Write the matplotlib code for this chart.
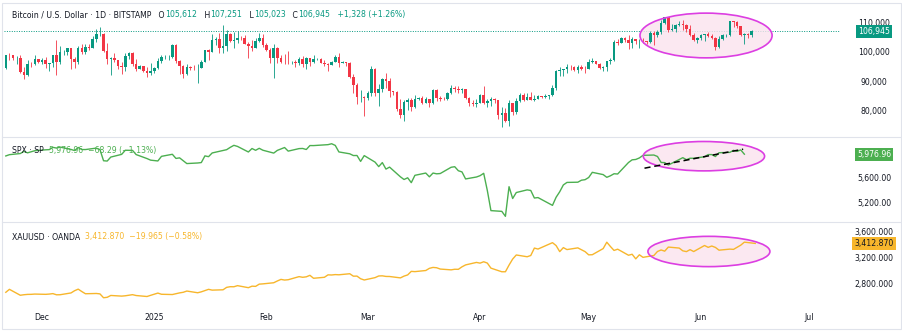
import numpy as np
import pandas as pd
import matplotlib
matplotlib.use("Agg")
import matplotlib.pyplot as plt
import matplotlib.dates as mdates
from matplotlib.patches import Ellipse
from matplotlib.lines import Line2D

# ---------------- data ----------------
btc_start, btc_end = "2024-11-21", "2025-06-15"
btc_first_open = 94300
btc_close = [
    98950, 98900, 97700, 98000, 93100, 91950, 95900, 95650, 97450, 96450,
    97280, 95860, 96000, 98750, 96600, 99900, 99900, 101150, 97350, 96600,
    101100, 100000, 101450, 101400, 104450, 106050, 106140, 100200, 97450, 97750,
    97200, 95150, 94850, 98650, 99400, 95800, 94200, 95150, 93550, 92650, 93400,
    94400, 96900, 98100, 98250, 98300, 102100, 96950, 95050, 92500, 94700,
    94550, 94500, 94500, 96550, 100500, 99990, 104100, 104400, 101100, 102000,
    106150, 103650, 103950, 104800, 104700, 102600, 102050, 101300, 103700, 104700, 102400,
    100650, 97700, 101400, 97900, 96600, 96550, 96500, 96500, 96150, 97400,
    95750, 97850, 96600, 97500, 97550, 96150, 95800, 95550, 96600, 98300,
    96150, 96550, 96250, 91500, 88700, 84700, 84700, 84350,
    86050, 94250, 86100, 87200, 90600, 89950, 86750, 86150, 80600, 78550,
    82850, 83700, 81050, 83950, 84350, 82600, 84050, 82700, 86850, 84150,
    84050, 83850, 86050, 87500, 87450, 86900, 87200, 84350, 82600, 82350, 82550,
    85150, 82500, 83100, 83850, 83500, 78350, 79150, 76300, 82550, 79600,
    83400, 85250, 83700, 84550, 83650, 84050, 84900, 84450, 85050, 85150,
    87500, 93450, 93700, 93950, 94700, 94650, 93750, 94950, 94250, 94200,
    96500, 96900, 95900, 94300, 94750, 96800, 97000, 103250, 102950, 104650,
    104100, 102800, 104150, 103500, 103750, 103500, 103200, 106450, 105600, 106800,
    109650, 111700, 107300, 107800, 109000, 109450, 108950, 107800, 105650, 103950, 104600,
    105700, 105850, 105400, 104700, 101500, 104300, 105600, 105750, 110300, 110250,
    108650, 105650, 106050, 105612, 106945,
]
btc_high = [
    99000, 99650, 98800, 98600, 98900, 94700, 97300, 96600, 98700, 97500,
    97900, 98200, 96300, 99000, 103900, 101900, 100500, 101400, 101200, 98200,
    101900, 102500, 102600, 102700, 105200, 107800, 108300, 106500, 102800, 98200,
    99500, 97300, 96400, 99500, 99950, 99900, 97400, 95500, 95200, 94900, 96100,
    94900, 97800, 98900, 98700, 98800, 102500, 102700, 97200, 95300, 95800,
    95000, 95300, 95900, 97300, 100700, 100800, 105900, 104900, 106300, 109100,
    107200, 106300, 106800, 107100, 105400, 105500, 103200, 103800, 104800, 106400, 106000,
    102800, 101400, 102500, 101700, 99000, 99200, 100100, 96900, 97300, 98300,
    98500, 98100, 98000, 98800, 97900, 97700, 97000, 96000, 96900, 98700,
    99500, 96900, 96500, 96500, 92500, 89300, 87000, 85100,
    86500, 95000, 94400, 88900, 91000, 92800, 91200, 86800, 86500, 84000,
    83600, 84400, 84300, 85300, 84700, 85000, 84700, 84000, 87400, 87400,
    84800, 84500, 86200, 88700, 88400, 88200, 87700, 87400, 84500, 83500, 83900,
    85500, 88500, 83900, 84700, 84200, 83700, 81200, 80800, 83500, 82700,
    84200, 85900, 86000, 85800, 86400, 85400, 85400, 85100, 85600, 85300,
    88800, 93800, 94700, 94000, 95700, 95300, 95200, 95600, 95400, 95200,
    97400, 97900, 96900, 96300, 95200, 96900, 97700, 103900, 104300, 104900,
    104900, 105800, 104900, 104300, 104200, 104500, 103700, 107100, 107100, 107300,
    110800, 111900, 111800, 109500, 109300, 110400, 110700, 109300, 108900, 106300, 104900,
    105900, 105900, 106800, 105900, 105000, 105300, 105900, 106000, 110500, 110400,
    110400, 108800, 106200, 106200, 107251,
]
btc_low = [
    94100, 97200, 97200, 95800, 92600, 90800, 91800, 94700, 95400, 96100,
    95700, 94400, 93600, 94700, 92100, 95900, 98900, 98700, 94200, 94300,
    95700, 99300, 99200, 100600, 101200, 103300, 105300, 100000, 95700, 92200,
    96400, 94200, 92400, 93400, 97600, 95200, 93300, 94100, 93100, 91300, 92000,
    92700, 94200, 96000, 97500, 97200, 97900, 96100, 92500, 91200, 92200,
    93800, 93700, 89200, 94300, 96500, 97300, 100000, 102300, 99500, 99600,
    100100, 103300, 101200, 102800, 104100, 102500, 97800, 100300, 101300, 103300, 101600,
    100300, 96200, 91200, 96200, 96200, 95700, 95700, 95700, 94700, 95300,
    94900, 94100, 95200, 96300, 97200, 96100, 95200, 93400, 95300, 96500,
    94900, 96100, 95200, 91200, 86100, 82300, 82800, 78200,
    83600, 85000, 85100, 81400, 86300, 87800, 84700, 85300, 80000, 77500,
    76600, 80200, 79900, 80800, 83700, 82100, 82500, 81200, 82300, 83200,
    83200, 83700, 83700, 85600, 86300, 85800, 85800, 83800, 81600, 81600, 81300,
    82400, 82300, 81200, 81700, 82400, 77200, 74500, 76200, 74600, 78500,
    78900, 82800, 83100, 83600, 83600, 83200, 83800, 84200, 84400, 83900,
    85100, 87000, 91700, 91700, 92900, 93900, 93600, 92800, 93700, 92900,
    94100, 96300, 95700, 94000, 93500, 93400, 95800, 96900, 102300, 102800,
    103400, 100800, 101400, 102600, 101400, 103100, 102600, 103100, 102100, 104900,
    106100, 109300, 106800, 107100, 106600, 108700, 107500, 106800, 105400, 103600, 103100,
    103900, 103700, 105000, 104200, 100400, 101100, 103900, 104900, 105300, 108300,
    108000, 105400, 102700, 104800, 105023,
]
btc_last = 106945

spx_holidays = ["2024-11-28", "2024-12-25", "2025-01-01", "2025-01-09",
                "2025-01-20", "2025-02-17", "2025-04-18", "2025-05-26"]
spx_close = [
    5948.7, 5969.3, 5987.4, 6021.6, 5998.7, 6032.4,
    6047.2, 6049.9, 6086.5, 6075.1, 6090.3, 6052.9, 6034.9, 6084.2, 6051.3, 6051.1,
    6074.1, 6050.6, 5872.2, 5867.1, 5930.9, 5974.1, 6040.0, 6037.6, 5970.8, 5906.9, 5881.6,
    5868.6, 5942.5, 5975.4, 5909.0, 5918.3, 5827.0, 5836.2, 5842.9, 5949.9, 5937.3,
    5996.7, 6049.2, 6086.4, 6118.7, 6101.2, 6012.3, 6067.7, 6039.3, 6071.2, 6040.5,
    5994.6, 6037.9, 6061.5, 6083.6, 6026.0, 6066.4, 6068.5, 6052.0, 6115.1, 6114.6,
    6129.6, 6144.2, 6117.5, 6013.1, 5983.3, 5955.3, 5956.1, 5861.6, 5954.5,
    5849.7, 5778.2, 5842.6, 5738.5, 5770.2, 5614.6, 5572.1, 5599.3, 5521.5, 5638.9,
    5675.1, 5614.7, 5675.3, 5662.9, 5667.6, 5767.6, 5776.7, 5712.2, 5693.3, 5580.9, 5611.9,
    5633.1, 5671.0, 5396.5, 5074.1, 5062.3, 4982.8, 5456.9, 5268.1, 5363.4, 5406.0,
    5396.6, 5275.7, 5282.7, 5158.2, 5287.8, 5375.9, 5484.8, 5525.2, 5528.8, 5560.8, 5569.1,
    5604.1, 5686.7, 5650.4, 5607.0, 5631.3, 5663.9, 5659.9, 5844.2, 5886.6, 5892.6,
    5916.9, 5958.4, 5963.6, 5940.5, 5844.6, 5842.0, 5802.8, 5921.5, 5888.6, 5912.2, 5911.7,
    5935.9, 5970.4, 5970.8, 5939.3, 6000.4, 6005.9, 6038.8, 6022.2, 6045.3, 5976.96,
]
spx_last = 5976.96

gold_holidays = ["2024-12-25", "2025-01-01", "2025-04-18"]
gold_close = [
    2670, 2715, 2625, 2633, 2638, 2639, 2643,
    2639, 2643, 2650, 2632, 2633, 2660, 2694, 2718, 2681, 2648,
    2652, 2646, 2587, 2594, 2622, 2612, 2617, 2634, 2621, 2606, 2624,
    2658, 2640, 2636, 2648, 2661, 2670, 2689, 2663, 2677, 2696, 2715,
    2703, 2708, 2745, 2755, 2754, 2771, 2740, 2763, 2760, 2794, 2798,
    2815, 2842, 2866, 2856, 2861, 2908, 2898, 2905, 2928, 2883,
    2898, 2935, 2933, 2939, 2936, 2952, 2915, 2916, 2876, 2857,
    2893, 2918, 2920, 2911, 2910, 2889, 2916, 2934, 2988, 2984,
    3001, 3034, 3048, 3043, 3023, 3011, 3020, 3019, 3057, 3086, 3124,
    3113, 3134, 3114, 3037, 2982, 2982, 3083, 3175, 3237, 3210,
    3229, 3342, 3327, 3424, 3380, 3288, 3349, 3319, 3345, 3317, 3288,
    3239, 3241, 3334, 3431, 3366, 3306, 3325, 3233, 3248, 3178, 3240,
    3201, 3229, 3290, 3313, 3295, 3357, 3342, 3300, 3288, 3318, 3289,
    3381, 3353, 3373, 3352, 3310, 3326, 3322, 3354, 3386, 3432, 3412.87,
]
gold_last = 3412.87

btc_ticks = [80000, 90000, 100000, 110000]
spx_ticks = [5200, 5600]
gold_ticks = [2800, 3200, 3600]
month_ticks = ["2024-12-01", "2025-01-01", "2025-02-01", "2025-03-01",
               "2025-04-01", "2025-05-01", "2025-06-01", "2025-07-01"]
month_labels = ["Dec", "2025", "Feb", "Mar", "Apr", "May", "Jun", "Jul"]

# ---------------- styles ----------------
UP, DOWN = "#089981", "#F23645"
SPX_C, GOLD_C = "#4CAF50", "#F7B62C"
DARK = "#131722"
SEP = "#E0E3EB"
MAG, PINK = "#DC3EE2", "#FBE3EE"
FS = 5.6

btc_dates = pd.date_range(btc_start, btc_end, freq="D")
spx_dates = pd.bdate_range("2024-11-21", "2025-06-13", freq="C", holidays=spx_holidays)
gold_dates = pd.bdate_range("2024-11-21", "2025-06-16", freq="C", holidays=gold_holidays)
n = min(len(spx_dates), len(spx_close)); spx_dates, spx_close = spx_dates[:n], spx_close[:n]
n = min(len(gold_dates), len(gold_close)); gold_dates, gold_close = gold_dates[:n], gold_close[:n]

o = np.array([btc_first_open] + btc_close[:-1], dtype=float)
o[-1] = 105612
c = np.array(btc_close, dtype=float)
h = np.array(btc_high, dtype=float)
l = np.array(btc_low, dtype=float)
cols = np.where(c >= o, UP, DOWN)

W, H = 903, 332
fig = plt.figure(figsize=(W / 100, H / 100), dpi=100)
fig.patch.set_facecolor("white")

def px_axes(top, bottom, left=4, right=840):
    return fig.add_axes([left / W, 1 - bottom / H, (right - left) / W, (bottom - top) / H])

ax1 = px_axes(4, 137)
ax2 = px_axes(137, 222)
ax3 = px_axes(222, 305)

xlim = (mdates.date2num(pd.Timestamp("2024-11-20 12:00")),
        mdates.date2num(pd.Timestamp("2025-07-09 10:00")))

for ax in (ax1, ax2, ax3):
    ax.set_xlim(*xlim)
    for s in ax.spines.values():
        s.set_visible(False)
    ax.yaxis.tick_right()
    ax.tick_params(axis="y", length=0, pad=24.5, labelsize=FS, labelcolor=DARK)
    ax.tick_params(axis="x", length=0)
    ax.set_facecolor("white")

# candles
ax1.vlines(btc_dates, l, h, colors=cols, linewidth=0.6, zorder=2)
ax1.bar(btc_dates, np.maximum(np.abs(c - o), 60), bottom=np.minimum(o, c),
        width=0.7, color=cols, linewidth=0, zorder=3)
ax1.axhline(btc_last, color=UP, linestyle=(0, (1, 1.5)), linewidth=0.7, zorder=1)
ax1.set_ylim(71000, 116200)
ax1.set_yticks(btc_ticks, [f"{v:,}" for v in btc_ticks])

ax2.plot(spx_dates, spx_close, color=SPX_C, linewidth=1.0, zorder=3)
ax2.set_ylim(4892, 6252)
ax2.set_yticks(spx_ticks, [f"{v:,.2f}" for v in spx_ticks])

ax3.plot(gold_dates, gold_close, color=GOLD_C, linewidth=1.0, zorder=3)
ax3.set_ylim(2477, 3738)
ax3.set_yticks(gold_ticks, [f"{v:,.3f}" for v in gold_ticks])

for ax in (ax1, ax2, ax3):
    plt.setp(ax.get_yticklabels(), ha="center")
    ax.set_xticks([])
ax3.set_xticks([mdates.date2num(pd.Timestamp(d)) for d in month_ticks], month_labels)
ax3.tick_params(axis="x", labelsize=FS, labelcolor=DARK, pad=5.5)

# ellipses + trend line
def dn(s):
    return mdates.date2num(pd.Timestamp(s))

for ax, cx, cy, w, hgt in [(ax1, "2025-06-02 10:00", 105500, 36.5, 15200),
                           (ax2, "2025-06-01 20:00", 5945, 33.5, 470),
                           (ax3, "2025-06-03 05:00", 3290, 33.7, 460)]:
    ax.add_patch(Ellipse((dn(cx), cy), w, hgt, facecolor=PINK, edgecolor="none",
                         alpha=0.8, zorder=1))
    ax.add_patch(Ellipse((dn(cx), cy), w, hgt, facecolor="none", edgecolor=MAG,
                         linewidth=1.2, zorder=4))
ax2.plot([dn("2025-05-16 10:00"), dn("2025-06-12 16:00")], [5753, 6057],
         color="black", linestyle=(0, (4, 2.5)), linewidth=1.1, zorder=5)

# price badges
def badge(ax, val, text, fc, tc):
    ax.annotate(text, xy=(1, val), xycoords=("axes fraction", "data"),
                xytext=(24.5, 0), textcoords="offset points", ha="center", va="center",
                fontsize=FS, color=tc, annotation_clip=False, zorder=6,
                bbox=dict(boxstyle="square,pad=0.25", fc=fc, ec="none"))

badge(ax1, btc_last, f"{btc_last:,}", UP, "white")
badge(ax2, spx_last, f"{spx_last:,.2f}", SPX_C, "white")
badge(ax3, gold_last, f"{gold_last:,.3f}", GOLD_C, DARK)

# legends / headers
def header(x, y, parts):
    prev = fig.text(x / W, 1 - y / H, parts[0][0], color=parts[0][1], fontsize=FS,
                    va="center", ha="left")
    for s, col in parts[1:]:
        prev = fig.add_artist(matplotlib.text.Annotation(
            s, xy=(1, 0), xycoords=prev, va="bottom", ha="left", fontsize=FS, color=col))

header(12, 15, [("Bitcoin / U.S. Dollar · 1D · BITSTAMP", DARK), ("   O", DARK), ("105,612", UP),
                ("   H", DARK), ("107,251", UP), ("   L", DARK), ("105,023", UP),
                ("   C", DARK), ("106,945", UP), ("   +1,328 (+1.26%)", UP)])
header(12, 150, [("SPX · SP", DARK), ("  5,976.96  \u221268.29 (\u22121.13%)", SPX_C)])
header(12, 237, [("XAUUSD · OANDA", DARK), ("  3,412.870  \u221219.965 (\u22120.58%)", GOLD_C)])

# pane separators and outer frame
for yy in (137, 222):
    fig.add_artist(Line2D([2 / W, 901 / W], [1 - yy / H] * 2, color=SEP, linewidth=0.8))
fig.add_artist(plt.Rectangle((2 / W, 3 / H), 899 / W, 326 / H, fill=False,
                             edgecolor=SEP, linewidth=0.8, transform=fig.transFigure))

fig.savefig("out.png", dpi=100)
